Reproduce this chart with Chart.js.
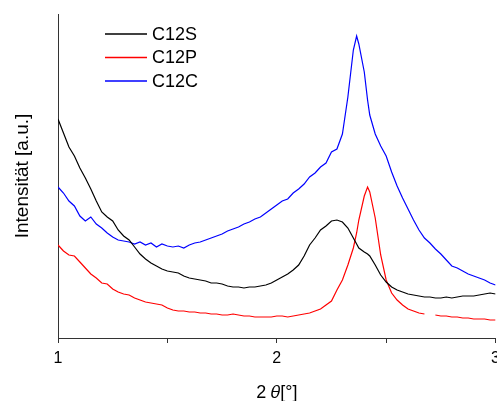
<!DOCTYPE html>
<html>
<head>
<meta charset="utf-8">
<script src="https://cdn.jsdelivr.net/npm/chart.js@4.4.1/dist/chart.umd.min.js"></script>
<style>
  html, body { margin: 0; padding: 0; background: #fff; overflow: hidden; }
  #wrap { width: 506px; height: 401px; }
</style>
</head>
<body>
<div id="wrap"><canvas id="xrd-chart" width="506" height="401"></canvas></div>
<script>
// 2 theta positions (deg), shared by all three scans
const twoTheta = [
  1.000, 1.025, 1.050, 1.075, 1.100, 1.125, 1.150, 1.175, 1.200, 1.225,
  1.250, 1.275, 1.300, 1.325, 1.350, 1.375, 1.400, 1.425, 1.450, 1.475,
  1.500, 1.525, 1.550, 1.575, 1.600, 1.625, 1.650, 1.675, 1.700, 1.725,
  1.750, 1.775, 1.800, 1.825, 1.850, 1.875, 1.900, 1.925, 1.950, 1.975,
  2.000, 2.025, 2.050, 2.075, 2.100, 2.125, 2.150, 2.175, 2.200, 2.225,
  2.250, 2.275, 2.300, 2.325, 2.350, 2.365, 2.375, 2.400, 2.415, 2.425,
  2.450, 2.475, 2.500, 2.525, 2.550, 2.575, 2.600, 2.625, 2.650, 2.675,
  2.700, 2.725, 2.750, 2.775, 2.800, 2.825, 2.850, 2.875, 2.900, 2.925,
  2.950, 2.975, 3.000
];

// intensities (a.u.)
const c12s = [
  219, 205, 191, 182, 170, 160, 149, 137, 126, 121,
  117, 108, 102, 98, 91, 84, 79, 75, 72, 69,
  67, 66, 65, 62, 60, 59, 58, 57, 55, 55,
  54, 52, 51, 51, 50, 51, 51, 52, 53, 55,
  58, 61, 64, 68, 73, 82, 93, 100, 108, 112,
  117, 118, 116, 110, 100, 94, 90, 86, 84, 82,
  73, 63, 56, 51, 48, 46, 44, 43, 42, 41,
  41, 40, 40, 41, 40, 41, 42, 42, 42, 43,
  44, 45, 44
];

const c12p = [
  93, 87, 83, 82, 76, 70, 64, 60, 55, 54,
  49, 46, 44, 43, 40, 38, 36, 35, 34, 33,
  30, 28, 27, 27, 26, 26, 25, 25, 24, 24,
  23, 23, 24, 23, 22, 22, 21, 21, 21, 21,
  22, 22, 21, 22, 23, 24, 25, 27, 29, 33,
  37, 48, 58, 73, 90, 105, 118, 142, 151, 146,
  120, 83, 58, 45, 38, 33, 29, 27, 25, 24,
  null, 23, 22, 22, 21, 21, 20, 20, 19, 19,
  19, 18, 18
];

const c12c = [
  151, 145, 137, 132, 122, 117, 121, 114, 110, 105,
  101, 98, 97, 96, 94, 96, 93, 95, 91, 94,
  92, 91, 92, 90, 93, 95, 96, 98, 100, 102,
  104, 107, 109, 111, 114, 116, 119, 121, 125, 129,
  133, 137, 139, 145, 149, 154, 161, 165, 171, 175,
  186, 189, 204, 241, 288, 302, 294, 266, 238, 223,
  204, 192, 182, 166, 152, 140, 129, 118, 108, 100,
  95, 89, 84, 78, 72, 70, 67, 64, 62, 60,
  58, 55, 53
];

const seriesLabels = ['C12S', 'C12P', 'C12C'];
const seriesColors = ['#000000', '#ff0000', '#0000ff'];
const xTicks = [1, 2, 3];

function toPoints(values) {
  return twoTheta.map((x, i) => ({ x: x, y: values[i] }));
}

// legend drawn inside the plot, top left
const insideLegend = {
  id: 'insideLegend',
  afterDraw(chart) {
    const ctx = chart.ctx;
    ctx.save();
    ctx.font = '18px "Liberation Sans", Arial, sans-serif';
    ctx.textBaseline = 'middle';
    chart.data.datasets.forEach((ds, i) => {
      const y = 34 + i * 23.5;
      ctx.strokeStyle = ds.borderColor;
      ctx.lineWidth = 1.3;
      ctx.beginPath();
      ctx.moveTo(105, y);
      ctx.lineTo(147, y);
      ctx.stroke();
      ctx.fillStyle = '#000';
      ctx.fillText(ds.label, 152, y + 1);
    });
    ctx.restore();
  }
};

const ctx = document.getElementById('xrd-chart').getContext('2d');

new Chart(ctx, {
  type: 'line',
  data: {
    datasets: [c12s, c12p, c12c].map((vals, i) => ({
      label: seriesLabels[i],
      data: toPoints(vals),
      borderColor: seriesColors[i],
      borderWidth: 1.2,
      pointRadius: 0,
      tension: 0,
      spanGaps: false,
      fill: false
    }))
  },
  options: {
    responsive: false,
    animation: false,
    layout: {
      padding: { top: 14, left: 0, right: 0, bottom: 0 }
    },
    plugins: {
      legend: { display: false },
      tooltip: { enabled: false }
    },
    scales: {
      x: {
        type: 'linear',
        min: 1,
        max: 3,
        afterFit: (scale) => { scale.height = 63; },
        afterBuildTicks: (scale) => {
          scale.ticks = [1, 1.5, 2, 2.5, 3].map(v => ({ value: v }));
        },
        ticks: {
          color: '#000',
          padding: 6,
          maxRotation: 0,
          autoSkip: false,
          font: { family: '"Liberation Sans", Arial, sans-serif', size: 16 },
          callback: (v) => xTicks.includes(v) ? String(v) : ''
        },
        grid: {
          drawOnChartArea: false,
          drawTicks: true,
          tickLength: 5,
          color: '#333'
        },
        border: { display: true, color: '#333', width: 1 },
        title: {
          display: true,
          text: '2 𝜃[°]',
          color: '#000',
          padding: { top: 0, bottom: -3 },
          font: { family: '"Liberation Sans", Arial, sans-serif', size: 18 }
        }
      },
      y: {
        min: 0,
        max: 324,
        afterFit: (scale) => { scale.width = 58; },
        ticks: { display: false },
        grid: { display: false, drawTicks: false },
        border: { display: true, color: '#333', width: 1 },
        title: {
          display: true,
          text: 'Intensität [a.u.]',
          color: '#000',
          padding: { top: 11, bottom: 0 },
          font: { family: '"Liberation Sans", Arial, sans-serif', size: 19 }
        }
      }
    }
  },
  plugins: [insideLegend]
});
</script>
</body>
</html>
